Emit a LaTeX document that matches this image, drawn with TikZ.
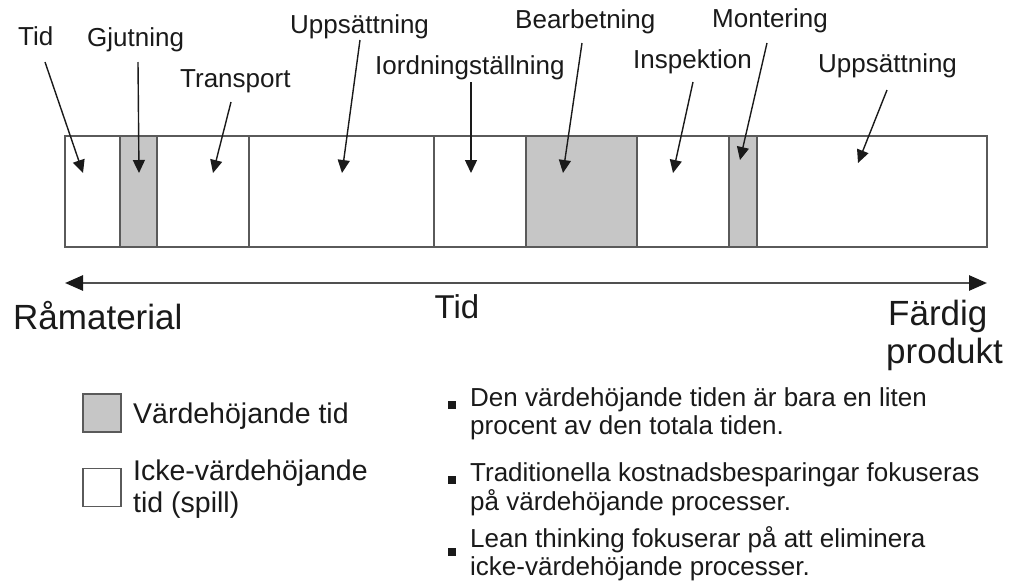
\documentclass[tikz,border=0pt]{standalone}
\usepackage{fontspec}
\setmainfont{Liberation Sans}
\usetikzlibrary{arrows.meta}
\definecolor{segline}{HTML}{5A5A5A}
\definecolor{segfill}{HTML}{C6C6C6}
\definecolor{ink}{HTML}{1A1A1A}
\definecolor{axis}{HTML}{505050}
\tikzset{
  seg/.style={draw=segline, line width=1.8pt, fill=white, inner sep=0pt,
              minimum height=111pt},
  vadd/.style={seg, fill=segfill},
  toplabel/.style={anchor=base west, inner sep=0pt, text=ink,
                   font=\fontsize{26}{30}\selectfont},
  axislabel/.style={anchor=base west, inner sep=0pt, text=ink,
                    font=\fontsize{35}{40}\selectfont},
  legendtext/.style={anchor=base west, inner sep=0pt, text=ink,
                     font=\fontsize{28.5}{32}\selectfont},
  bullettext/.style={anchor=base west, inner sep=0pt, text=ink,
                     font=\fontsize{26}{30}\selectfont},
  pointer/.style={draw=ink, line width=1.4pt,
                  -{Triangle[length=13pt,width=12pt]}},
  timeaxis/.style={draw=axis, line width=2.6pt,
                   {Triangle[length=18pt,width=15pt,color=ink]}-{Triangle[length=18pt,width=15pt,color=ink]}},
  legendbox/.style={draw=segline, line width=1.8pt, inner sep=0pt,
                    minimum width=38pt, minimum height=38pt},
  bulletmark/.style={fill=ink, inner sep=0pt, minimum size=8pt},
}
\begin{document}
\begin{tikzpicture}[x=1pt,y=-1pt]
  \useasboundingbox[fill=white] (0,0) rectangle (1010,587);

  % process bar: value-adding segments in grey
  \node[seg,  minimum width=55pt]  (s1) at (92.5,191.5) {};
  \node[vadd, minimum width=37pt]  (s2) at (138.5,191.5) {};
  \node[seg,  minimum width=92pt]  (s3) at (203,191.5) {};
  \node[seg,  minimum width=185pt] (s4) at (341.5,191.5) {};
  \node[seg,  minimum width=92pt]  (s5) at (480,191.5) {};
  \node[vadd, minimum width=111pt] (s6) at (581.5,191.5) {};
  \node[seg,  minimum width=92pt]  (s7) at (683,191.5) {};
  \node[vadd, minimum width=28pt]  (s8) at (743,191.5) {};
  \node[seg,  minimum width=230pt] (s9) at (872,191.5) {};

  % step labels
  \node[toplabel] (lTid)   at (18,45)  {Tid};
  \node[toplabel] (lGjut)  at (87,46)  {Gjutning};
  \node[toplabel] (lTrans) at (180,87) {Transport};
  \node[toplabel] (lUpp)   at (290,33) {Uppsättning};
  \node[toplabel] (lIord)  at (375,74) {Iordningställning};
  \node[toplabel] (lBear)  at (515,28) {Bearbetning};
  \node[toplabel] (lInsp)  at (633,68) {Inspektion};
  \node[toplabel] (lMont)  at (712,27) {Montering};
  \node[toplabel] (lUpp2)  at (818,72) {Uppsättning};

  % pointer start and end points
  \coordinate (aTid)   at (45,62);   \coordinate (bTid)   at (83,173);
  \coordinate (aGjut)  at (138,62);  \coordinate (bGjut)  at (139,173);
  \coordinate (aTrans) at (231,102); \coordinate (bTrans) at (213,173);
  \coordinate (aUpp)   at (360,40);  \coordinate (bUpp)   at (342,173);
  \coordinate (aIord)  at (471,82);  \coordinate (bIord)  at (471,173);
  \coordinate (aBear)  at (582,43);  \coordinate (bBear)  at (563,173);
  \coordinate (aInsp)  at (693,82);  \coordinate (bInsp)  at (673,173);
  \coordinate (aMont)  at (767,43);  \coordinate (bMont)  at (740,160);
  \coordinate (aUpp2)  at (887,90);  \coordinate (bUpp2)  at (858,163);

  \foreach \p in {Tid,Gjut,Trans,Upp,Iord,Bear,Insp,Mont,Upp2}
    \draw[pointer] (a\p) -- (b\p);

  % time axis
  \coordinate (tStart) at (65,283);
  \coordinate (tEnd)   at (987,283);
  \draw[timeaxis] (tStart) -- (tEnd);
  \node[axislabel] (raw)  at (13,329)  {Råmaterial};
  \node[anchor=base, inner sep=0pt, text=ink, font=\fontsize{33}{38}\selectfont]
        (tid) at (457,318) {Tid};
  \node[axislabel] (fin1) at (888,325) {Färdig};
  \node[axislabel] (fin2) at (886,363) {produkt};

  % legend
  \node[legendbox, fill=segfill] (kVadd) at (102,413) {};
  \node[legendbox, fill=white]   (kWaste) at (102,487.5) {};
  \node[legendtext] (tVadd)  at (133,423) {Värdehöjande tid};
  \node[legendtext] (tWaste) at (133,480) {Icke-värdehöjande};
  \node[legendtext] (tWaste2) at (133,512) {tid (spill)};

  % remarks
  \node[bulletmark] (m1) at (452,405) {};
  \node[bulletmark] (m2) at (452,480) {};
  \node[bulletmark] (m3) at (452,552) {};
  \node[bullettext] (r1a) at (470,406) {Den värdehöjande tiden är bara en liten};
  \node[bullettext] (r1b) at (470,434) {procent av den totala tiden.};
  \node[bullettext] (r2a) at (470,481) {Traditionella kostnadsbesparingar fokuseras};
  \node[bullettext] (r2b) at (470,510) {på värdehöjande processer.};
  \node[bullettext] (r3a) at (470,547) {Lean thinking fokuserar på att eliminera};
  \node[bullettext] (r3b) at (470,575) {icke-värdehöjande processer.};
\end{tikzpicture}
\end{document}
